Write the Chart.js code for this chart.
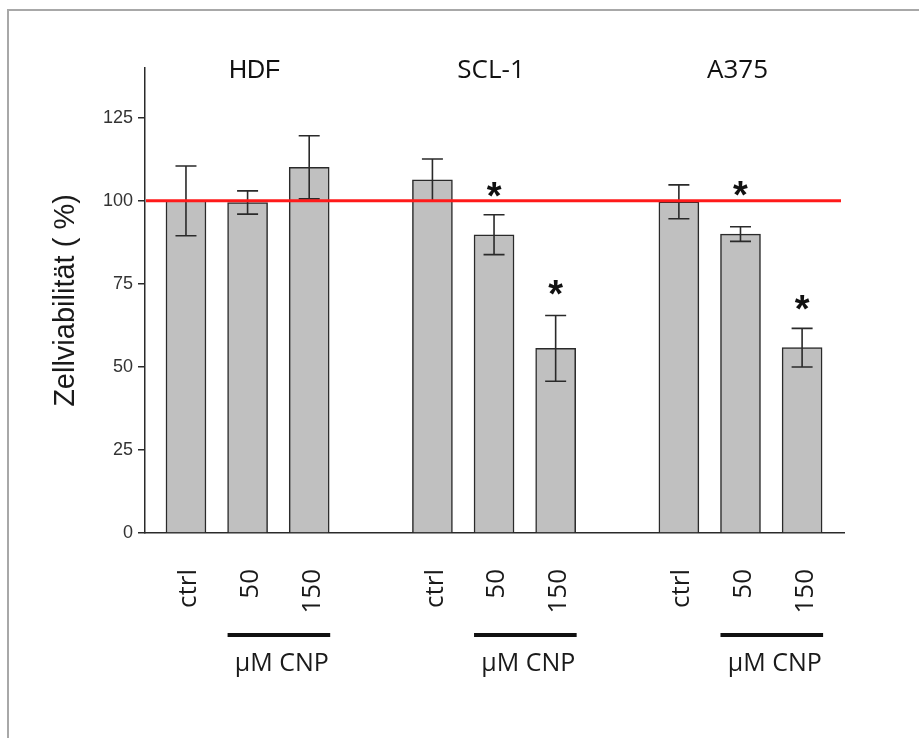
<!DOCTYPE html>
<html>
<head>
<meta charset="utf-8">
<script src="https://cdn.jsdelivr.net/npm/chart.js@4"></script>
<style>
  html, body { margin: 0; padding: 0; background: #ffffff; }
  #wrap { width: 919px; height: 738px; position: relative; }
</style>
</head>
<body>
<div id="wrap"><canvas id="c" width="919" height="738"></canvas></div>
<script>
// ---- data ----
const groups = ['HDF', 'SCL-1', 'A375'];
const doses = ['ctrl', '50', '150'];
const unitLabel = 'µM CNP';
const means  = [100.0, 99.5, 110.1, 106.3, 89.8, 55.6, 99.7, 90.0, 55.8];
const errors = [10.5, 3.5, 9.5, 6.3, 6.0, 9.9, 5.1, 2.2, 5.8];
const stars  = ['', '', '', '', '*', '*', '', '*', '*'];
const starValues = [null, null, null, null, 103.3, 73.9, null, 103.6, 69.4];
const yTicks = [0, 25, 50, 75, 100, 125];
const referenceValue = 100;
const yTitle = 'Zellviabilität ( %)';

// build bar points: each group occupies 3 slots followed by one empty slot
const points = [];
groups.forEach((g, gi) => {
  doses.forEach((d, di) => {
    const k = gi * doses.length + di;
    points.push({ x: gi * (doses.length + 1) + di, y: means[k], err: errors[k], star: stars[k], starY: starValues[k], label: d });
  });
});

const annot = {
  id: 'annot',
  afterDatasetsDraw(chart) {
    const { ctx, chartArea, scales: { x, y } } = chart;
    ctx.save();
    // error bars
    ctx.strokeStyle = '#2a2a2a';
    ctx.lineWidth = 1.6;
    points.forEach(p => {
      const px = x.getPixelForValue(p.x);
      const top = y.getPixelForValue(p.y + p.err);
      const bot = y.getPixelForValue(p.y - p.err);
      ctx.beginPath();
      ctx.moveTo(px, top); ctx.lineTo(px, bot);
      ctx.moveTo(px - 10.5, top); ctx.lineTo(px + 10.5, top);
      ctx.moveTo(px - 10.5, bot); ctx.lineTo(px + 10.5, bot);
      ctx.stroke();
    });
    // reference line
    const ry = y.getPixelForValue(referenceValue);
    ctx.strokeStyle = '#ff1a1a';
    ctx.lineWidth = 3;
    ctx.beginPath();
    ctx.moveTo(chartArea.left + 1, ry); ctx.lineTo(chartArea.right - 3, ry);
    ctx.stroke();
    // significance stars
    ctx.fillStyle = '#111';
    ctx.font = 'bold 38px "Liberation Sans", Arial, sans-serif';
    ctx.textAlign = 'center';
    ctx.textBaseline = 'alphabetic';
    points.forEach(p => {
      if (!p.star) return;
      const m = ctx.measureText(p.star);
      const cy = y.getPixelForValue(p.starY);
      const by = cy + (m.actualBoundingBoxAscent - m.actualBoundingBoxDescent) / 2;
      ctx.fillText(p.star, x.getPixelForValue(p.x), by);
    });
    ctx.restore();
  },
  afterDraw(chart) {
    const { ctx, chartArea, scales: { x } } = chart;
    ctx.save();
    // frame
    ctx.strokeStyle = '#a8a8a8';
    ctx.lineWidth = 2;
    ctx.beginPath();
    ctx.moveTo(8, 738); ctx.lineTo(8, 10); ctx.lineTo(919, 10);
    ctx.stroke();
    // group titles
    ctx.fillStyle = '#111';
    ctx.textBaseline = 'middle';
    ctx.textAlign = 'center';
    groups.forEach((g, gi) => {
      const cx = x.getPixelForValue(gi * (doses.length + 1) + 1);
      ctx.font = gi === 0 ? '25px "Liberation Sans", Arial, sans-serif' : '26px "Open Sans", sans-serif';
      ctx.fillText(g, cx + (gi === 0 ? 7 : -3), chartArea.top + 3);
    });
    // rotated dose labels
    ctx.font = '26px "Open Sans", sans-serif';
    ctx.fillStyle = '#1a1a1a';
    points.forEach(p => {
      ctx.save();
      ctx.translate(x.getPixelForValue(p.x) + 3, chartArea.bottom + 36);
      ctx.rotate(-Math.PI / 2);
      ctx.textAlign = 'right';
      ctx.textBaseline = 'middle';
      ctx.fillText(p.label, 0, 0);
      ctx.restore();
    });
    // concentration bars and unit labels
    groups.forEach((g, gi) => {
      const a = x.getPixelForValue(gi * (doses.length + 1) + 1) - 20;
      const b = x.getPixelForValue(gi * (doses.length + 1) + 2) + 21;
      ctx.fillStyle = '#111';
      ctx.fillRect(a, chartArea.bottom + 100, b - a, 4);
      ctx.font = '25px "Open Sans", sans-serif';
      ctx.textAlign = 'center';
      ctx.textBaseline = 'alphabetic';
      ctx.fillStyle = '#1a1a1a';
      ctx.fillText(unitLabel, (a + b) / 2 + 3, chartArea.bottom + 138);
    });
    ctx.restore();
  }
};

new Chart(document.getElementById('c'), {
  type: 'bar',
  data: {
    datasets: [{
      data: points,
      backgroundColor: '#c0c0c0',
      borderColor: '#2a2a2a',
      borderWidth: 1.5,
      borderSkipped: 'bottom',
      barThickness: 40
    }]
  },
  options: {
    responsive: false,
    animation: false,
    events: [],
    layout: { padding: { left: 8, top: 68, right: 75, bottom: 205 } },
    plugins: { legend: { display: false }, tooltip: { enabled: false } },
    scales: {
      x: {
        type: 'linear',
        offset: false,
        min: -0.665,
        max: 10.68,
        ticks: { display: false },
        grid: { display: false, drawTicks: false, offset: false },
        border: { display: true, color: '#2a2a2a', width: 1.5 },
        afterFit(s) { s.height = 0; }
      },
      y: {
        min: 0,
        max: 140,
        afterBuildTicks(s) { s.ticks = yTicks.map(v => ({ value: v })); },
        ticks: {
          color: '#333',
          padding: 5,
          font: { family: '"Liberation Sans", Arial, sans-serif', size: 18 }
        },
        grid: { drawOnChartArea: false, drawTicks: true, tickLength: 7, color: '#2a2a2a', lineWidth: 1.5 },
        border: { display: true, color: '#2a2a2a', width: 1.5 },
        title: {
          display: true,
          text: yTitle,
          color: '#1a1a1a',
          font: { family: '"Liberation Sans", Arial, sans-serif', size: 29 },
          padding: { top: 41, bottom: 0 }
        },
        afterFit(s) { s.width = 137; }
      }
    }
  },
  plugins: [annot]
});
</script>
</body>
</html>
